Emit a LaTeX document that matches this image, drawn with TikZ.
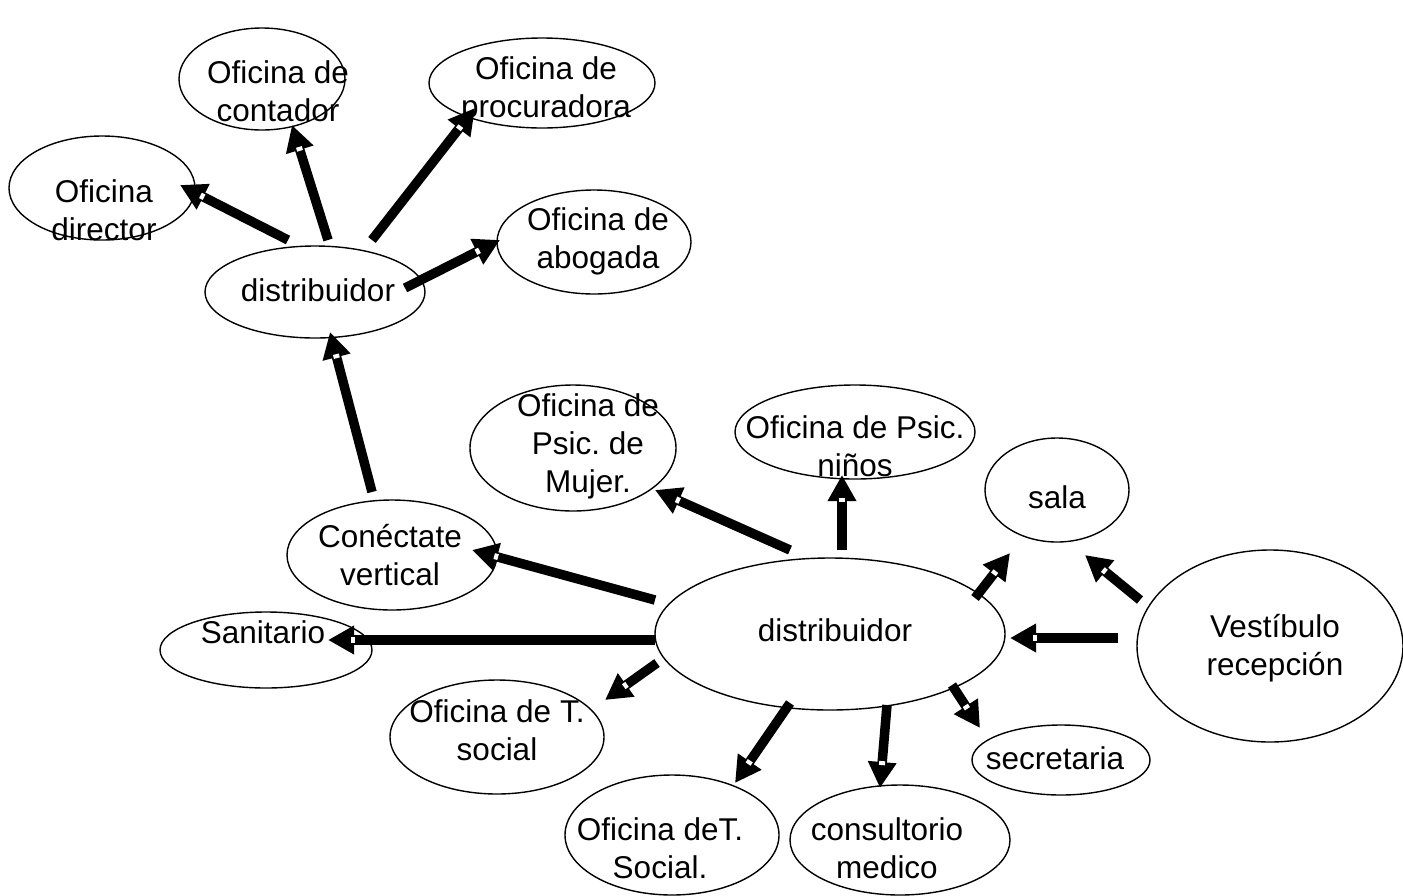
\documentclass[tikz,border=0pt]{standalone}
\usepackage{fontspec}
\setmainfont{Liberation Sans}
\usetikzlibrary{arrows.meta,shapes.geometric,decorations.markings}

\tikzset{
  room/.style={draw,ellipse,line width=1.4pt,inner sep=0pt},
  flow/.style={line width=9.5pt,-{Triangle[length=26pt,width=27pt]},
    postaction={decorate,decoration={markings,
      mark=at position -25pt with {\fill[white] (-2pt,-3pt) rectangle (2pt,3pt);}}}},
  every label/.style={font=\fontsize{31.5}{38}\selectfont\frenchspacing,align=center,inner sep=0pt}
}

\begin{document}
\begin{tikzpicture}[x=1pt,y=-1pt]
\useasboundingbox (0,0) rectangle (1403,895);
% upper group
\node[room,minimum width=186pt,minimum height=104pt,label={[xshift=2pt,yshift=-22pt]center:Oficina\\director}] (director) at (102,188) {};
\node[room,minimum width=166pt,minimum height=102pt,label={[xshift=16pt,yshift=-12pt]center:Oficina de\\contador}] (contador) at (262,79) {};
\node[room,minimum width=226pt,minimum height=90pt,label={[xshift=4pt,yshift=-7pt]center:Oficina de\\procuradora}] (procuradora) at (542,83) {};
\node[room,minimum width=194pt,minimum height=104pt,label={[xshift=4pt,yshift=1pt]center:Oficina de\\abogada}] (abogada) at (594,242) {};
\node[room,minimum width=220pt,minimum height=92pt,label={[xshift=3pt,yshift=2pt]center:distribuidor}] (distA) at (315,292) {};
\node[room,minimum width=210pt,minimum height=110pt,label={[xshift=-2pt]center:Conéctate\\vertical}] (conecta) at (392,555) {};
% lower group
\node[room,minimum width=206pt,minimum height=126pt,label={[xshift=15pt,yshift=2pt]center:Oficina de\\Psic. de\\Mujer.}] (mujer) at (573,448) {};
\node[room,minimum width=240pt,minimum height=94pt,label={[yshift=-14pt]center:Oficina de Psic.\\niños}] (ninos) at (855,432) {};
\node[room,minimum width=144pt,minimum height=104pt,label={[yshift=-7pt]center:sala}] (sala) at (1057,490) {};
\node[room,minimum width=350pt,minimum height=152pt,label={[xshift=5pt,yshift=4pt]center:distribuidor}] (distB) at (830,634) {};
\node[room,minimum width=266pt,minimum height=192pt,label={[xshift=5pt,yshift=-2pt]center:Vestíbulo\\recepción}] (vestibulo) at (1270,646) {};
\node[room,minimum width=212pt,minimum height=76pt,label={[xshift=-3pt,yshift=18pt]center:Sanitario}] (sanitario) at (266,650) {};
\node[room,minimum width=214pt,minimum height=114pt,label={[yshift=7pt]center:Oficina de T.\\social}] (tsocialA) at (497,737) {};
\node[room,minimum width=214pt,minimum height=120pt,label={[xshift=-12pt,yshift=-13pt]center:Oficina deT.\\Social.}] (tsocialB) at (672,835) {};
\node[room,minimum width=220pt,minimum height=110pt,label={[xshift=-13pt,yshift=-8pt]center:consultorio\\medico}] (consultorio) at (900,840) {};
\node[room,minimum width=178pt,minimum height=70pt,label={[xshift=-6pt,yshift=2pt]center:secretaria}] (secretaria) at (1061,760) {};

% arrows, upper group
\draw[flow] ([shift={(-27,-52)}]distA.center) -- ([shift={(78,-3)}]director.center);
\draw[flow] ([shift={(13,-52)}]distA.center) -- ([shift={(30,46)}]contador.center);
\draw[flow] ([shift={(57,-52)}]distA.center) -- ([shift={(-67,25)}]procuradora.center);
\draw[flow] ([shift={(90,-4)}]distA.center) -- ([shift={(-94,-2)}]abogada.center);
\draw[flow] ([shift={(-20,-63)}]conecta.center) -- ([shift={(15,40)}]distA.center);
% arrows, lower group
\draw[flow] ([shift={(-175,-34)}]distB.center) -- ([shift={(80,-5)}]conecta.center);
\draw[flow] ([shift={(-40,-84)}]distB.center) -- ([shift={(82,42)}]mujer.center);
\draw[flow] ([shift={(12,-84)}]distB.center) -- ([shift={(-13,43)}]ninos.center);
\draw[flow] ([shift={(145,-36)}]distB.center) -- ([shift={(-47,63)}]sala.center);
\draw[flow] ([shift={(-130,-46)}]vestibulo.center) -- ([shift={(28,65)}]sala.center);
\draw[flow] ([shift={(-152,-8)}]vestibulo.center) -- ([shift={(180,4)}]distB.center);
\draw[flow] ([shift={(-175,6)}]distB.center) -- ([shift={(62,-10)}]sanitario.center);
\draw[flow] ([shift={(-173,29)}]distB.center) -- ([shift={(108,-37)}]tsocialA.center);
\draw[flow] ([shift={(-40,69)}]distB.center) -- ([shift={(63,-52)}]tsocialB.center);
\draw[flow] ([shift={(57,71)}]distB.center) -- ([shift={(-20,-52)}]consultorio.center);
\draw[flow] ([shift={(122,51)}]distB.center) -- ([shift={(-81,-32)}]secretaria.center);
\end{tikzpicture}
\end{document}
